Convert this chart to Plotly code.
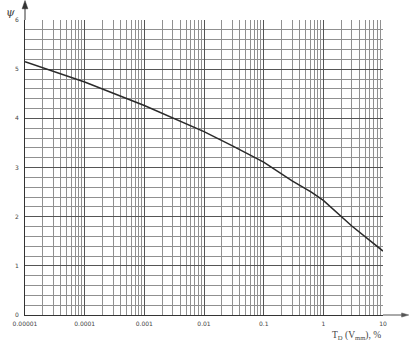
import plotly.graph_objects as go

# data
x_pct = [0.00001, 0.0001, 0.001, 0.003, 0.01, 0.03, 0.1, 0.3, 0.63, 1, 3, 10]
psi = [5.15, 4.74, 4.26, 4.00, 3.73, 3.44, 3.11, 2.73, 2.50, 2.33, 1.81, 1.30]

x_tickvals = [0.00001, 0.0001, 0.001, 0.01, 0.1, 1, 10]
x_ticktext = ["0.00001", "0.0001", "0.001", "0.01", "0.1", "1", "10"]
y_tickvals = [0, 1, 2, 3, 4, 5, 6]

minor_x = [m * 10 ** e for e in range(-5, 1) for m in range(2, 10)]
minor_y = [i * 0.2 for i in range(31)]

grid_col = "#555555"
minor_col = "#909090"

fig = go.Figure()
fig.add_trace(go.Scatter(x=x_pct, y=psi, mode="lines",
                         line=dict(color="#2a2a2a", width=1.5),
                         showlegend=False, hoverinfo="skip"))

fig.update_layout(
    width=409, height=340,
    margin=dict(l=25, r=26, t=20, b=25),
    paper_bgcolor="white", plot_bgcolor="white",
    font=dict(family="DejaVu Sans", size=6, color="#444444"),
    xaxis=dict(type="log", range=[-5, 1], tickmode="array",
               tickvals=x_tickvals, ticktext=x_ticktext,
               showgrid=True, gridcolor=grid_col, gridwidth=1,
               minor=dict(tickmode="array", tickvals=minor_x, showgrid=True,
                          gridcolor=minor_col, gridwidth=1, ticks=""),
               showline=True, linecolor="#333333", linewidth=1,
               ticks="", ticklabelstandoff=3, zeroline=False,
               tickfont=dict(family="DejaVu Sans", size=6, color="#444444")),
    yaxis=dict(range=[0, 6], tickmode="array", tickvals=y_tickvals,
               showgrid=True, gridcolor=grid_col, gridwidth=1,
               minor=dict(tickmode="array", tickvals=minor_y, showgrid=True,
                          gridcolor=minor_col, gridwidth=1, ticks=""),
               showline=True, linecolor="#333333", linewidth=1,
               ticks="", ticklabelstandoff=4, zeroline=False,
               tickfont=dict(family="DejaVu Sans", size=6, color="#444444")),
)

# axis arrows drawn as shapes (paper coordinates)
fig.add_shape(type="line", xref="paper", yref="paper", x0=0, y0=1, x1=0, y1=1.05,
              line=dict(color="#333333", width=1))
fig.add_shape(type="path", xref="paper", yref="paper",
              path="M -0.008 1.038 L 0 1.066 L 0.008 1.038 Z",
              fillcolor="#333333", line=dict(color="#333333", width=0.5))
fig.add_shape(type="line", xref="paper", yref="paper", x0=1, y0=0, x1=1.06, y1=0,
              line=dict(color="#555555", width=1))
fig.add_shape(type="path", xref="paper", yref="paper",
              path="M 1.052 -0.007 L 1.072 0 L 1.052 0.007 Z",
              fillcolor="#555555", line=dict(color="#555555", width=0.5))

fig.add_annotation(xref="paper", yref="paper", x=-0.04, y=1.024,
                   xanchor="center", yanchor="middle", showarrow=False,
                   text="<i>ψ</i>", font=dict(family="DejaVu Serif", size=11, color="#444444"))
fig.add_annotation(xref="paper", yref="paper", x=1.0, y=-0.045,
                   xanchor="right", yanchor="top", showarrow=False,
                   text="T<sub>D</sub> (V<sub>mm</sub>), %",
                   font=dict(family="Liberation Serif", size=9.5, color="#444444"))

fig.write_html("out.html")
